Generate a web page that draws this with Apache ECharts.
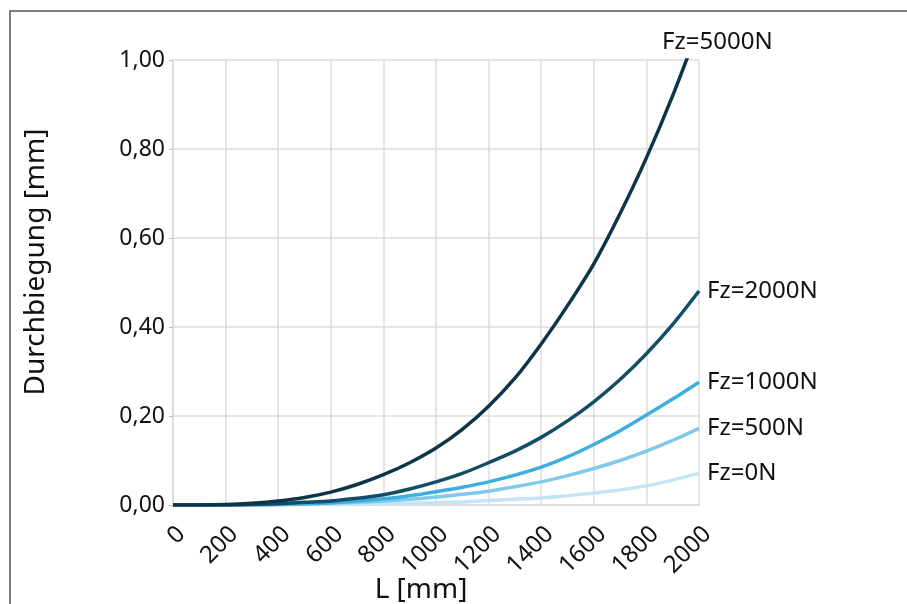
<!DOCTYPE html>
<html>
<head>
<meta charset="utf-8">
<script src="https://cdn.jsdelivr.net/npm/echarts@6/dist/echarts.min.js"></script>
<style>
html, body { margin: 0; padding: 0; background: #fff; }
#chart { width: 907px; height: 604px; }
</style>
</head>
<body>
<div id="chart"></div>
<script>
// L [mm]
var lengths = [0, 100, 200, 300, 400, 500, 600, 700, 800, 900, 1000,
               1100, 1200, 1300, 1400, 1500, 1600, 1700, 1800, 1900, 2000];

// Durchbiegung [mm] je Last
var fz0    = [0, 0, 0, 0, 0, 0.001, 0.001, 0.002, 0.003, 0.004, 0.005,
              0.007, 0.010, 0.013, 0.016, 0.021, 0.027, 0.034, 0.043, 0.056, 0.071];
var fz500  = [0, 0, 0, 0, 0.001, 0.002, 0.004, 0.006, 0.009, 0.013, 0.018,
              0.024, 0.031, 0.041, 0.052, 0.066, 0.082, 0.100, 0.121, 0.145, 0.172];
var fz1000 = [0, 0, 0, 0.001, 0.0015, 0.003, 0.005, 0.009, 0.014, 0.021, 0.030,
              0.040, 0.052, 0.067, 0.085, 0.108, 0.136, 0.167, 0.202, 0.238, 0.276];
var fz2000 = [0, 0, 0, 0.001, 0.003, 0.006, 0.009, 0.015, 0.023, 0.036, 0.052,
              0.071, 0.095, 0.121, 0.152, 0.189, 0.232, 0.282, 0.340, 0.406, 0.481];
var fz5000 = [0, 0, 0.001, 0.004, 0.009, 0.017, 0.029, 0.046, 0.068, 0.095, 0.128,
              0.170, 0.222, 0.285, 0.362, 0.448, 0.542, 0.655, 0.780, 0.920, 1.075];

var names  = ['Fz=0N', 'Fz=500N', 'Fz=1000N', 'Fz=2000N', 'Fz=5000N'];
var values = [fz0, fz500, fz1000, fz2000, fz5000];
var colors = ['#c2e4f4', '#80c9eb', '#3eaee0', '#134d66', '#0e3447'];

var font = 'Noto Sans';

function pairs(ys) {
    return lengths.map(function (x, i) { return [x, ys[i]]; });
}

var series = names.map(function (n, i) {
    return {
        name: n,
        type: 'line',
        data: pairs(values[i]),
        smooth: 0.3,
        showSymbol: false,
        clip: true,
        lineStyle: { color: colors[i], width: 3.5 },
        endLabel: {
            show: i < 4,
            formatter: n,
            color: '#111',
            fontFamily: font,
            fontSize: 24,
            distance: 8
        }
    };
});

var chart = echarts.init(document.getElementById('chart'));
chart.setOption({
    animation: false,
    grid: { left: 173, right: 208, top: 60, bottom: 99 },
    xAxis: {
        type: 'value',
        min: 0,
        max: 2000,
        interval: 200,
        axisLine: { lineStyle: { color: '#d9d9d9', width: 1.5 } },
        axisTick: { show: false },
        splitLine: { lineStyle: { color: '#dcdcdc', width: 1.5 } },
        axisLabel: {
            rotate: 45,
            margin: 17,
            verticalAlign: 'top',
            color: '#111',
            fontFamily: font,
            fontSize: 24,
            formatter: function (v) { return String(v); }
        }
    },
    yAxis: {
        type: 'value',
        min: 0,
        max: 1,
        interval: 0.2,
        axisLine: { show: true, lineStyle: { color: '#d9d9d9', width: 1.5 } },
        axisTick: { show: true, length: 4, lineStyle: { color: '#bbb' } },
        splitLine: { lineStyle: { color: '#dcdcdc', width: 1.5 } },
        axisLabel: {
            margin: 8,
            color: '#111',
            fontFamily: font,
            fontSize: 23,
            formatter: function (v) { return v.toFixed(2).replace('.', ','); }
        }
    },
    graphic: [
        {
            type: 'rect',
            shape: { x: 10, y: 11, width: 1000, height: 1000 },
            style: { fill: 'none', stroke: '#555', lineWidth: 1.5 },
            silent: true
        },
        {
            type: 'text',
            x: 36, y: 262,
            rotation: Math.PI / 2,
            style: {
                text: 'Durchbiegung [mm]',
                fontFamily: font, fontSize: 28, fill: '#111',
                align: 'center', verticalAlign: 'middle'
            }
        },
        {
            type: 'text',
            x: 421, y: 590,
            style: {
                text: 'L [mm]',
                fontFamily: font, fontSize: 28, fill: '#111',
                align: 'center', verticalAlign: 'middle'
            }
        },
        {
            type: 'text',
            x: 662, y: 42,
            style: {
                text: names[4],
                fontFamily: font, fontSize: 24, fill: '#111',
                align: 'left', verticalAlign: 'middle'
            }
        }
    ],
    series: series
});
</script>
</body>
</html>
